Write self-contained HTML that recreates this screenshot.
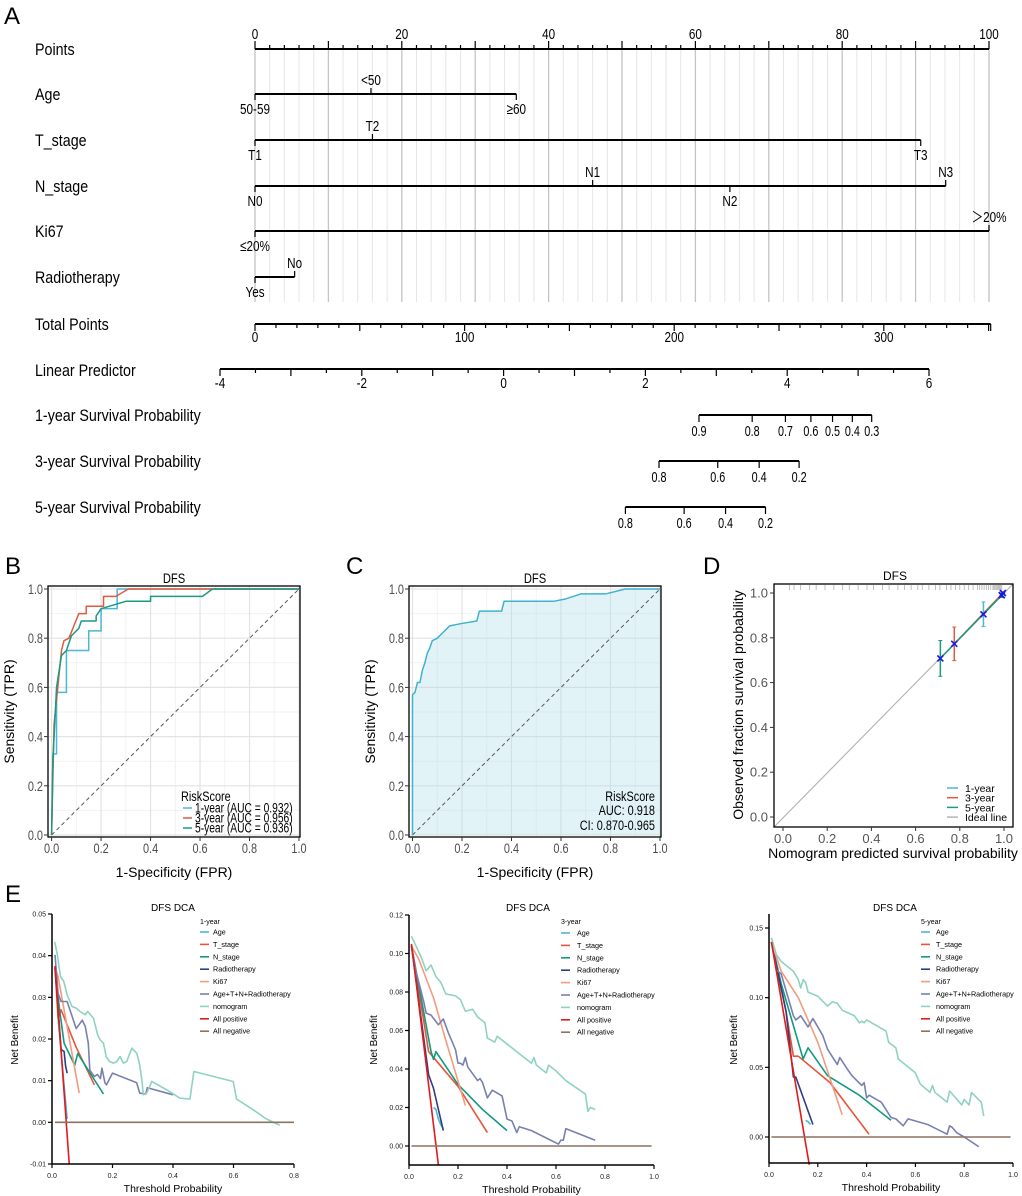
<!DOCTYPE html>
<html><head><meta charset="utf-8">
<style>
html,body{margin:0;padding:0;background:#fff;}
svg{display:block;font-family:"Liberation Sans",sans-serif;}
</style></head>
<body>
<svg id="fig" xmlns="http://www.w3.org/2000/svg" width="1022" height="1196" viewBox="0 0 1022 1196">
<rect x="0" y="0" width="1022" height="1196" fill="#fff"/>
<text x="4" y="24" font-size="24">A</text>
<text x="5" y="574" font-size="24">B</text>
<text x="346" y="574" font-size="24">C</text>
<text x="703" y="574" font-size="24">D</text>
<text x="5" y="902" font-size="24">E</text>
</svg>
<script>
// ---------- DATA ----------
const nomoRows = ["Age","T_stage","N_stage","Ki67","Radiotherapy"];
const ageLevels = ["50-59","<50","≥60"];
const agePoints = [0,15.8,35.6];
const tLevels = ["T1","T2","T3"];
const tPoints = [0,16,90.7];
const nLevels = ["N0","N1","N2","N3"];
const nPoints = [0,46,64.7,94.1];
const kiLevels = ["≤20%","＞20%"];
const kiPoints = [0,100];
const rtLevels = ["Yes","No"];
const rtPoints = [0,5.4];
const totalPointsMax = 351;
const totalPointsTicks = [0,100,200,300];
const lpTicks = [-4,-2,0,2,4,6];
const surv1Ticks = [0.9,0.8,0.7,0.6,0.5,0.4,0.3];
const surv3Ticks = [0.8,0.6,0.4,0.2];
const surv5Ticks = [0.8,0.6,0.4,0.2];
const survConst = [-5.006,-3.692,-3.218];
const roc1x = [0,0.005,0.02,0.02,0.06,0.06,0.15,0.15,0.2,0.2,0.265,0.265,1];
const roc1y = [0,0.33,0.33,0.58,0.58,0.75,0.75,0.83,0.83,0.92,0.92,1,1];
const roc3x = [0,0.01,0.02,0.03,0.04,0.05,0.07,0.09,0.11,0.14,0.14,0.21,0.21,0.26,0.31,1];
const roc3y = [0,0.45,0.55,0.65,0.75,0.79,0.8,0.85,0.9,0.9,0.93,0.93,0.97,0.97,1,1];
const roc5x = [0,0.005,0.015,0.02,0.04,0.06,0.08,0.11,0.12,0.18,0.18,0.2,0.3,0.4,0.4,0.61,0.65,1];
const roc5y = [0,0.3,0.5,0.6,0.73,0.75,0.81,0.84,0.87,0.87,0.89,0.92,0.95,0.95,0.97,0.97,1,1];
const rocLegend = ["1-year (AUC = 0.932)","3-year (AUC = 0.956)","5-year (AUC = 0.936)"];
const rocCx = [0,0,0.01,0.02,0.03,0.04,0.05,0.06,0.07,0.08,0.1,0.12,0.13,0.15,0.2,0.26,0.27,0.36,0.37,0.57,0.62,0.68,0.78,0.86,1];
const rocCy = [0,0.57,0.58,0.62,0.62,0.67,0.7,0.74,0.76,0.79,0.8,0.82,0.83,0.85,0.86,0.87,0.91,0.91,0.95,0.95,0.96,0.98,0.98,1,1];
const rocTicks = [0,0.2,0.4,0.6,0.8,1.0];
const cal1Pred = [0.907,0.99];
const cal1Obs = [0.905,0.99];
const cal1Err = [0.055,0.01];
const cal3Pred = [0.775,0.995];
const cal3Obs = [0.773,1.0];
const cal3Err = [0.075,0.005];
const cal5Pred = [0.712,0.99];
const cal5Obs = [0.708,0.99];
const cal5Err = [0.08,0.01];
const rugVals = [0.03,0.05,0.08,0.12,0.15,0.19,0.23,0.27,0.3,0.34,0.38,0.41,0.45,0.48,0.52,0.55,0.58,0.61,0.63,0.66,0.69,0.71,0.74,0.76,0.78,0.8,0.82,0.84,0.86,0.88,0.89,0.9,0.91,0.92,0.93,0.94,0.95,0.955,0.96,0.965,0.97,0.975,0.98,0.985,0.99];
const dcaNames = ["Age","T_stage","N_stage","Radiotherapy","Ki67","Age+T+N+Radiotherapy","nomogram","All positive","All negative"];
const dcaColors = ["#4db6d3","#e7553a","#129a80","#2e3f7f","#f39b7f","#7880b0","#8ed3c0","#e31a1c","#8c7260"];
const d1 = [
 [[0.02,0.025],[0.05,0.0008]],
 [[0.01,0.0375],[0.02,0.025],[0.03,0.027],[0.08,0.018],[0.14,0.009]],
 [[0.01,0.037],[0.025,0.027],[0.04,0.019],[0.075,0.0137],[0.085,0.0165],[0.17,0.0068]],
 [[0.01,0.037],[0.03,0.0175],[0.04,0.017],[0.045,0.0135],[0.05,0.0118]],
 [[0.01,0.037],[0.02,0.035],[0.09,0.007]],
 [[0.01,0.0402],[0.02,0.031],[0.03,0.029],[0.05,0.029],[0.08,0.0225],[0.1,0.0245],[0.11,0.023],[0.12,0.019],[0.125,0.0125],[0.14,0.011],[0.15,0.0115],[0.16,0.0105],[0.165,0.013],[0.175,0.0095],[0.18,0.009],[0.2,0.0118],[0.28,0.0095],[0.29,0.007],[0.31,0.0068],[0.315,0.0083],[0.4,0.0066]],
 [[0.009,0.0433],[0.017,0.0405],[0.028,0.035],[0.039,0.0338],[0.05,0.0306],[0.066,0.0278],[0.08,0.0274],[0.093,0.0266],[0.11,0.0258],[0.118,0.0266],[0.137,0.025],[0.151,0.021],[0.159,0.0198],[0.17,0.019],[0.179,0.0158],[0.19,0.0146],[0.203,0.0142],[0.214,0.0146],[0.225,0.0158],[0.236,0.0142],[0.247,0.0146],[0.264,0.0178],[0.28,0.0166],[0.289,0.0142],[0.297,0.0102],[0.302,0.0066],[0.313,0.007],[0.33,0.0098],[0.379,0.0078],[0.423,0.0058],[0.456,0.0056],[0.469,0.0122],[0.599,0.0098],[0.61,0.0056],[0.665,0.003],[0.709,0.0008],[0.753,-0.0007]],
 [[0.01,0.0375],[0.057,-0.01]],
 [[0.01,0],[0.8,0]]
];
const d3 = [
 [[0.10,0.02],[0.11,0.019],[0.12,0.014],[0.13,0.011],[0.14,0.009]],
 [[0.01,0.104],[0.06,0.065],[0.08,0.049],[0.1,0.046],[0.2,0.031],[0.32,0.007]],
 [[0.01,0.104],[0.09,0.049],[0.1,0.045],[0.11,0.049],[0.2,0.032],[0.3,0.019],[0.4,0.008]],
 [[0.01,0.104],[0.08,0.037],[0.1,0.03],[0.14,0.008]],
 [[0.01,0.104],[0.04,0.097],[0.1,0.077],[0.15,0.055],[0.23,0.021]],
 [[0.01,0.104],[0.03,0.09],[0.06,0.075],[0.07,0.069],[0.09,0.068],[0.12,0.063],[0.14,0.066],[0.16,0.059],[0.19,0.05],[0.2,0.043],[0.21,0.043],[0.22,0.042],[0.23,0.046],[0.24,0.041],[0.28,0.034],[0.29,0.035],[0.3,0.033],[0.32,0.025],[0.34,0.029],[0.38,0.026],[0.4,0.014],[0.42,0.013],[0.44,0.007],[0.45,0.01],[0.5,0.008],[0.61,0.001],[0.62,0.003],[0.63,0.003],[0.64,0.009],[0.76,0.003]],
 [[0.01,0.109],[0.05,0.098],[0.07,0.091],[0.09,0.094],[0.11,0.088],[0.13,0.085],[0.15,0.079],[0.19,0.078],[0.21,0.076],[0.23,0.07],[0.26,0.071],[0.28,0.067],[0.31,0.064],[0.32,0.056],[0.35,0.054],[0.36,0.057],[0.42,0.051],[0.5,0.043],[0.51,0.046],[0.52,0.042],[0.56,0.038],[0.57,0.042],[0.6,0.039],[0.64,0.034],[0.72,0.027],[0.73,0.018],[0.74,0.02],[0.76,0.019]],
 [[0.01,0.105],[0.12,-0.0099]],
 [[0.01,0],[0.99,0]]
];
const d5 = [
 [[0.15,0.012],[0.16,0.011],[0.17,0.009]],
 [[0.01,0.14],[0.07,0.09],[0.1,0.058],[0.12,0.058],[0.25,0.039],[0.41,0.002]],
 [[0.01,0.14],[0.05,0.11],[0.14,0.056],[0.16,0.064],[0.24,0.044],[0.37,0.03],[0.5,0.012]],
 [[0.01,0.14],[0.07,0.09],[0.1,0.043],[0.11,0.043],[0.18,0.009]],
 [[0.01,0.14],[0.05,0.119],[0.12,0.1],[0.2,0.068],[0.3,0.016]],
 [[0.01,0.14],[0.03,0.12],[0.05,0.117],[0.1,0.087],[0.11,0.084],[0.13,0.087],[0.16,0.079],[0.18,0.085],[0.22,0.073],[0.24,0.063],[0.28,0.052],[0.29,0.057],[0.32,0.049],[0.34,0.044],[0.38,0.037],[0.39,0.039],[0.4,0.028],[0.41,0.03],[0.46,0.025],[0.5,0.014],[0.52,0.013],[0.55,0.008],[0.57,0.013],[0.65,0.009],[0.73,0.002],[0.74,0.008],[0.75,0.007],[0.77,0.003],[0.8,0],[0.86,-0.007]],
 [[0.01,0.143],[0.03,0.131],[0.05,0.126],[0.1,0.119],[0.12,0.113],[0.13,0.107],[0.14,0.113],[0.15,0.111],[0.16,0.104],[0.2,0.101],[0.24,0.094],[0.26,0.097],[0.28,0.096],[0.3,0.091],[0.35,0.087],[0.37,0.082],[0.38,0.083],[0.39,0.082],[0.4,0.084],[0.45,0.079],[0.48,0.076],[0.49,0.068],[0.52,0.064],[0.53,0.056],[0.6,0.046],[0.62,0.038],[0.66,0.032],[0.67,0.037],[0.68,0.032],[0.73,0.025],[0.74,0.033],[0.79,0.023],[0.8,0.027],[0.82,0.023],[0.83,0.032],[0.87,0.025],[0.88,0.015]],
 [[0.01,0.14],[0.165,-0.0199]],
 [[0.01,0],[0.99,0]]
];
const dca1YTicks = [-0.01,0,0.01,0.02,0.03,0.04,0.05];
const dca1XTicks = [0,0.2,0.4,0.6,0.8];
const dca3YTicks = [0,0.02,0.04,0.06,0.08,0.1,0.12];
const dca5YTicks = [0,0.05,0.1,0.15];
const dcaXTicks = [0,0.2,0.4,0.6,0.8,1.0];

// ---------- HELPERS ----------
const NS = "http://www.w3.org/2000/svg";
const svg = document.getElementById('fig');
function mk(tag, attrs, parent){
  const e = document.createElementNS(NS, tag);
  for (const k in attrs) e.setAttribute(k, attrs[k]);
  (parent || svg).appendChild(e);
  return e;
}
function grp(name){
  const g = mk('g', {});
  
  
  return g;
}
function line(g, x1,y1,x2,y2,stroke,w,name){
  const e = mk('line',{x1:x1,y1:y1,x2:x2,y2:y2,stroke:stroke,'stroke-width':w},g);
  
  
  return e;
}
function text(g, x,y,s,size,anchor,name,extra){
  const e = mk('text',{x:x,y:y,'font-size':size,'text-anchor':anchor||'start',fill:'#000'},g);
  if (extra) for (const k in extra) e.setAttribute(k, extra[k]);
  e.textContent = s;
  
  
  return e;
}
// condensed text (horizontal scale)
function ntext(g, x,y,s,size,anchor,name,sc,extra){
  const e = mk('text',{x:0,y:0,'font-size':size,'text-anchor':anchor||'start',fill:'#000',transform:'translate('+x+','+y+') scale('+sc+',1)'},g);
  if (extra) for (const k in extra) e.setAttribute(k, extra[k]);
  e.textContent = s;
  
  
  return e;
}
function poly(g, pts, stroke, w, name, fill){
  const e = mk('polyline',{points:pts.map(p=>p[0].toFixed(2)+','+p[1].toFixed(2)).join(' '),fill:fill||'none',stroke:stroke,'stroke-width':w,'stroke-linejoin':'round'},g);
  
  
  return e;
}

// ---------- NOMOGRAM ----------
(function(){
  const g = grp('nomogram');
  const px = p => 255 + p*7.34;
  const NS_ = 0.78;
  for (let p=0; p<=100; p+=2){
    const major = p%10===0;
    line(g, px(p),49,px(p),302, major?'#c4c4c4':'#e6e6e6', major?1.3:1, 'nomogram-gridline');
  }
  ntext(g,35,55,'Points',17,'start','points-row-label',0.84);
  line(g,255,49,989,49,'#000',2,'points-axis-line');
  for (let p=0;p<=100;p+=2){
    line(g,px(p),49,px(p),p%10===0?41:45,'#000',1.2,'points-axis-tick');
  }
  for (let p=0;p<=100;p+=20) ntext(g,px(p),39,String(p),15,'middle','points-tick-label',NS_);
  const rows = [[ageLevels,agePoints,94],[tLevels,tPoints,140],[nLevels,nPoints,186],[kiLevels,kiPoints,231],[rtLevels,rtPoints,277]];
  rows.forEach((r,i)=>{
    const [labs,pts,y]=r;
    ntext(g,35,y+6,nomoRows[i],17,'start','nomogram-row-label',0.84);
    line(g,px(Math.min(...pts)),y,px(Math.max(...pts)),y,'#000',2,'nomogram-variable-line');
    const order = pts.map((p,k)=>k).sort((a,b)=>pts[a]-pts[b]);
    order.forEach((k,j)=>{
      const above = j%2===1;
      line(g,px(pts[k]),y,px(pts[k]),above?y-6:y+6,'#000',1.2,'nomogram-level-tick');
      ntext(g,px(pts[k]),above?y-9:y+20,labs[k],15,'middle','nomogram-level-label',NS_);
    });
  });
  const tp = v => 255 + v*2.096;
  ntext(g,35,330,'Total Points',17,'start','total-points-label',0.84);
  line(g,tp(0),324,tp(totalPointsMax),324,'#000',2,'total-points-axis');
  for (let v=0; v<=totalPointsMax; v+=10){
    line(g,tp(v),324,tp(v),v%50===0?331:328,'#000',1.2,'total-points-tick');
  }
  line(g,tp(totalPointsMax),324,tp(totalPointsMax),331,'#000',1.2,'total-points-end-tick');
  totalPointsTicks.forEach(v=>ntext(g,tp(v),342,String(v),15,'middle','total-points-tick-label',NS_));
  const lp = v => 220 + (v+4)*70.9;
  ntext(g,35,376,'Linear Predictor',17,'start','linear-predictor-label',0.84);
  line(g,lp(-4),369,lp(6),369,'#000',2,'linear-predictor-axis');
  for (let v=-4; v<=6.001; v+=0.5){
    line(g,lp(v),369,lp(v),Math.abs(v-Math.round(v))<1e-6?376:373,'#000',1.2,'linear-predictor-tick');
  }
  lpTicks.forEach(v=>ntext(g,lp(v),388,String(v),15,'middle','linear-predictor-tick-label',NS_));
  const surv = [[surv1Ticks,415,'1-year Survival Probability'],[surv3Ticks,461,'3-year Survival Probability'],[surv5Ticks,507,'5-year Survival Probability']];
  surv.forEach((s,i)=>{
    const [ticks,y,lab]=s;
    const pos = p => lp(Math.log(-Math.log(p)) - survConst[i]);
    ntext(g,35,y+6,lab,17,'start','survival-row-label',0.84);
    line(g,pos(ticks[0]),y,pos(ticks[ticks.length-1]),y,'#000',2,'survival-axis');
    ticks.forEach(p=>{
      line(g,pos(p),y,pos(p),y+7,'#000',1.2,'survival-tick');
      ntext(g,pos(p),y+21,String(p),15,'middle','survival-tick-label',0.72);
    });
  });
})();

// ---------- ROC ----------
function rocFrame(g, sx, sy, bx0, bx1, by0, by1){
  mk('rect',{x:bx0,y:by0,width:bx1-bx0,height:by1-by0,fill:'#fff'},g);
  for (let v=0.1; v<1; v+=0.2){
    line(g,sx(v),by0,sx(v),by1,'#f2f2f2',1,'roc-minor-gridline');
    line(g,bx0,sy(v),bx1,sy(v),'#f2f2f2',1,'roc-minor-gridline');
  }
  rocTicks.forEach(v=>{
    line(g,sx(v),by0,sx(v),by1,'#e3e3e3',1.2,'roc-major-gridline');
    line(g,bx0,sy(v),bx1,sy(v),'#e3e3e3',1.2,'roc-major-gridline');
  });
}
function rocAxes(g, sx, sy, bx0, bx1, by0, by1, title){
  const r = mk('rect',{x:bx0,y:by0,width:bx1-bx0,height:by1-by0,fill:'none',stroke:'#000','stroke-width':1.3},g);
  
  
  rocTicks.forEach(v=>{
    line(g,sx(v),by1,sx(v),by1+4,'#333',1,'x-tick');
    ntext(g,sx(v),by1+16,v.toFixed(1),14,'middle','x-tick-label',0.78,{fill:'#4d4d4d'});
    line(g,bx0,sy(v),bx0-4,sy(v),'#333',1,'y-tick');
    ntext(g,bx0-5,sy(v)+5,v.toFixed(1),14,'end','y-tick-label',0.78,{fill:'#4d4d4d'});
  });
  ntext(g,(bx0+bx1)/2,by0-3,title,14,'middle','plot-title',0.8);
  text(g,(bx0+bx1)/2,by1+40,'1-Specificity (FPR)',14,'middle','x-axis-title');
  text(g,0,0,'Sensitivity (TPR)',14,'middle','y-axis-title',{transform:'translate('+(bx0-34)+','+((by0+by1)/2)+') rotate(-90)'});
}
(function(){
  const g = grp('roc-panel-b');
  const sx = v => 51.6 + v*247.4, sy = v => 835 - v*246;
  rocFrame(g,sx,sy,48,300,586,837);
  const dl = mk('line',{x1:sx(0),y1:sy(0),x2:sx(1),y2:sy(1),stroke:'#555','stroke-width':1,'stroke-dasharray':'4,3'},g);
  
  
  const series = [[roc1x,roc1y,'#4db6d3'],[roc3x,roc3y,'#e05a3e'],[roc5x,roc5y,'#1a9a83']];
  series.forEach((s,i)=>{
    poly(g,s[0].map((x,k)=>[sx(x),sy(s[1][k])]),s[2],1.5,'roc-curve-'+(i===0?1:i===1?3:5)+'-year');
  });
  rocAxes(g,sx,sy,48,300,586,837,'DFS');
  ntext(g,181,801,'RiskScore',14,'start','legend-title',0.78);
  series.forEach((s,i)=>{
    line(g,183,808+i*10,192,808+i*10,s[2],1.5,'legend-swatch');
    ntext(g,195,812.5+i*10,rocLegend[i],13.5,'start','legend-entry',0.76);
  });
})();
(function(){
  const g = grp('roc-panel-c');
  const sx = v => 412.5 + v*247.5, sy = v => 835 - v*246;
  rocFrame(g,sx,sy,409,661,586,837);
  const pts = rocCx.map((x,k)=>[sx(x),sy(rocCy[k])]);
  poly(g,pts.concat([[sx(1),sy(0)],[sx(0),sy(0)]]),'none',0,'auc-area','rgba(173,220,232,0.35)');
  const dl = mk('line',{x1:sx(0),y1:sy(0),x2:sx(1),y2:sy(1),stroke:'#555','stroke-width':1,'stroke-dasharray':'4,3'},g);
  
  
  poly(g,pts,'#3fb2cf',1.5,'roc-curve');
  rocAxes(g,sx,sy,409,661,586,837,'DFS');
  ntext(g,655,801,'RiskScore',14,'end','legend-title',0.78);
  ntext(g,655,815,'AUC: 0.918',14,'end','auc-label',0.78);
  ntext(g,655,830,'CI: 0.870-0.965',14,'end','ci-label',0.78);
})();

// ---------- CALIBRATION ----------
(function(){
  const g = grp('calibration-panel-d');
  const sx = v => 783 + v*221, sy = v => 817 - v*224;
  const bx0=774,bx1=1013,by0=584,by1=827;
  rugVals.forEach(v=>line(g,sx(v),by0+1,sx(v),by0+6,'#b0b0b0',0.8,'rug-tick'));
  line(g,bx0,by1,bx1,by0,'#b5b5b5',1.2,'ideal-line');
  const series = [[cal1Pred,cal1Obs,cal1Err,'#4db6d3','1-year'],[cal3Pred,cal3Obs,cal3Err,'#e05a3e','3-year'],[cal5Pred,cal5Obs,cal5Err,'#1a9a83','5-year']];
  series.forEach(s=>{
    poly(g,s[0].map((x,k)=>[sx(x),sy(s[1][k])]),s[3],1.5,'calibration-line-'+s[4]);
    s[0].forEach((x,k)=>{
      line(g,sx(x),sy(s[1][k]-s[2][k]),sx(x),sy(s[1][k]+s[2][k]),s[3],1.5,'error-bar');
      line(g,sx(x)-2,sy(s[1][k]-s[2][k]),sx(x)+2,sy(s[1][k]-s[2][k]),s[3],1,'error-bar-cap');
      line(g,sx(x)-2,sy(s[1][k]+s[2][k]),sx(x)+2,sy(s[1][k]+s[2][k]),s[3],1,'error-bar-cap');
    });
  });
  series.forEach(s=>{
    s[0].forEach((x,k)=>{
      const cx=sx(x), cy=sy(s[1][k]);
      line(g,cx-3,cy-3,cx+3,cy+3,'#1a1adb',1.6,'calibration-point');
      line(g,cx-3,cy+3,cx+3,cy-3,'#1a1adb',1.6,'calibration-point');
    });
  });
  const r = mk('rect',{x:bx0,y:by0,width:bx1-bx0,height:by1-by0,fill:'none',stroke:'#000','stroke-width':1.3},g);
  
  
  rocTicks.forEach(v=>{
    line(g,sx(v),by1,sx(v),by1+4,'#333',1,'x-tick');
    text(g,sx(v),by1+16,v.toFixed(1),13,'middle','x-tick-label',{fill:'#555'});
    line(g,bx0,sy(v),bx0-4,sy(v),'#333',1,'y-tick');
    text(g,bx0-6,sy(v)+4.5,v.toFixed(1),13,'end','y-tick-label',{fill:'#555'});
  });
  text(g,895,580,'DFS',12,'middle','plot-title');
  text(g,893,858,'Nomogram predicted survival probability',14,'middle','x-axis-title');
  text(g,0,0,'Observed fraction survival probability',14,'middle','y-axis-title',{transform:'translate(743,705) rotate(-90)'});
  const leg = [['#4db6d3','1-year'],['#e05a3e','3-year'],['#1a9a83','5-year'],['#b5b5b5','Ideal line']];
  leg.forEach((l,i)=>{
    line(g,947,788+i*9.7,958,788+i*9.7,l[0],1.5,'legend-swatch');
    text(g,965,792+i*9.7,l[1],10.5,'start','legend-entry');
  });
})();

// ---------- DCA ----------
function dca(name, data, sx, sy, yTicks, xTicks, yDec, axTop, axBot, axLeft, axRight, title, tx, legTitle, legLineX, legTextX, legY, ylabX){
  const g = grp(name);
  data.forEach((s,i)=>{
    poly(g,s.map(p=>[sx(p[0]),sy(p[1])]),dcaColors[i],1.6,'dca-curve-'+dcaNames[i].toLowerCase().replace(/[^a-z0-9]+/g,'-'));
  });
  line(g,axLeft,axTop,axLeft,axBot,'#000',1.5,'y-axis-line');
  line(g,axLeft,axBot,axRight,axBot,'#000',1.5,'x-axis-line');
  yTicks.forEach(v=>{
    line(g,axLeft,sy(v),axLeft-4,sy(v),'#000',1.2,'y-tick');
    text(g,axLeft-6,sy(v)+2.5,v.toFixed(yDec),7,'end','y-tick-label',{fill:'#222'});
  });
  xTicks.forEach(v=>{
    line(g,sx(v),axBot,sx(v),axBot+4,'#000',1.2,'x-tick');
    text(g,sx(v),axBot+14,v.toFixed(1),7,'middle','x-tick-label',{fill:'#222'});
  });
  text(g,tx,911,title,10,'middle','plot-title');
  text(g,(axLeft+axRight)/2,axBot+28,'Threshold Probability',10.5,'middle','x-axis-title');
  text(g,0,0,'Net Benefit',10,'middle','y-axis-title',{transform:'translate('+ylabX+',1040) rotate(-90)'});
  text(g,legLineX,924,legTitle,7,'start','legend-title');
  dcaNames.forEach((n,i)=>{
    const y = legY + i*12.4;
    line(g,legLineX,y,legLineX+9,y,dcaColors[i],1.6,'legend-swatch');
    text(g,legTextX,y+2.5,n,7.2,'start','legend-entry');
  });
}
dca('dca-1-year', d1, v=>52+v*302.5, v=>914-(v-0.05)*4166.7, dca1YTicks, dca1XTicks, 2, 914, 1164, 52, 294, 'DFS DCA', 173, '1-year', 200, 213, 932, 18);
dca('dca-3-year', d3, v=>409+v*245, v=>1146-v*1925, dca3YTicks, dcaXTicks, 2, 915, 1165, 409, 654, 'DFS DCA', 528, '3-year', 561, 577, 933, 377);
dca('dca-5-year', d5, v=>769+v*244, v=>1137-v*1393.3, dca5YTicks, dcaXTicks, 2, 914, 1163, 769, 1013, 'DFS DCA', 895, '5-year', 921, 936, 932, 737);
</script>
</body></html>
